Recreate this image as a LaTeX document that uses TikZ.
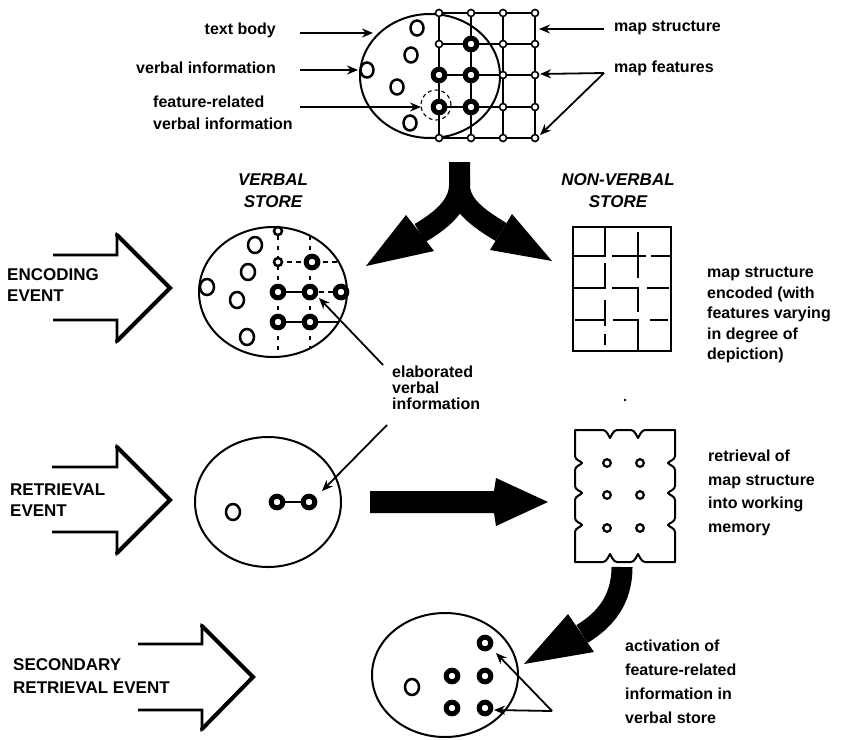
\documentclass[tikz,border=0pt]{standalone}
\usepackage{fontspec}
\setmainfont{Liberation Sans}
\usetikzlibrary{arrows.meta}
\begin{document}
\begin{tikzpicture}[x=1pt,y=-1pt,
  lbl/.style={font=\bfseries\fontsize{16}{20}\selectfont, inner sep=0pt, align=left},
  hd/.style={font=\bfseries\itshape\fontsize{17}{22}\selectfont, inner sep=0pt, align=center},
  ev/.style={font=\bfseries\fontsize{17}{21}\selectfont, inner sep=0pt, align=left},
  ring/.style={line width=5pt, draw, fill=white},
  oc/.style={line width=2.5pt, draw, fill=white},
  gn/.style={line width=1.6pt, draw, fill=white},
  ptr/.style={line width=1.8pt, -{Stealth[length=11pt,width=9pt]}},
  blk/.style={line width=2.6pt, line join=miter},
  blkh/.style={line width=4pt, line cap=round},
  band/.style={line width=21pt},
  outl/.style={line width=2pt},
]
\useasboundingbox (0,0) rectangle (850,739);

% ---------------- top figure ----------------
\draw[outl] (430,76) ellipse [x radius=70pt, y radius=62pt];
\foreach \gx in {439,471,503,535} \draw[outl] (\gx,13) -- (\gx,138);
\foreach \gy in {13,44,75,107,138} \draw[outl] (439,\gy) -- (535,\gy);
\foreach \p in {(417,28),(411,55),(397,87),(367,70),(410,123)}
  \draw[oc] \p ellipse [x radius=6.5pt, y radius=7.5pt];
\foreach \gx in {439,471,503,535}
  \foreach \gy in {13,44,75,107,138}
    \draw[gn] (\gx,\gy) circle [radius=3.5pt];
\foreach \p in {(471,44),(439,75),(471,75),(439,107),(471,107)}
  \draw[ring] \p circle [radius=5.8pt];
\draw[line width=1.1pt, dashed, dash pattern=on 4pt off 3pt] (436,105) circle [radius=15pt];

\node[lbl, anchor=east] (tb) at (276,30) {text body};
\node[lbl, anchor=east] (vi) at (276,68) {verbal information};
\node[lbl, anchor=north west, font=\bfseries\fontsize{16}{22}\selectfont] (fr) at (153,96) {feature-related\\verbal information};
\node[lbl, anchor=west] (ms) at (614,28) {map structure};
\node[lbl, anchor=west] (mf) at (614,68) {map features};

\coordinate (tbS) at (300,33);  \coordinate (tbE) at (373,33);
\coordinate (viS) at (300,70);  \coordinate (viE) at (358,70);
\coordinate (frS) at (300,107); \coordinate (frE) at (421,107);
\coordinate (msS) at (604,29);  \coordinate (msE) at (539,29);
\coordinate (mfS) at (604,73);  \coordinate (mfE1) at (540,74); \coordinate (mfE2) at (540,135);
\draw[ptr] (tbS) -- (tbE);
\draw[ptr] (viS) -- (viE);
\draw[ptr] (frS) -- (frE);
\draw[ptr] (msS) -- (msE);
\draw[ptr] (mfS) -- (mfE1);
\draw[ptr] (mfS) -- (mfE2);

% ---------------- split arrow ----------------
\draw[band] (459.5,162) -- (459.5,185) .. controls (459.5,205) and (442,220) .. (420,233);
\fill (406,215) -- (366,266) -- (434,251) -- cycle;
\draw[band] (459.5,180) -- (459.5,185) .. controls (459.5,205) and (478,218) .. (501,232);
\fill (512,214) -- (552,261) -- (490,250) -- cycle;

% ---------------- headings ----------------
\node[hd] (vs) at (273,191) {VERBAL\\STORE};
\node[hd] (nvs) at (618,191) {NON-VERBAL\\STORE};

% ---------------- encoding row ----------------
\draw[blk] (53,255) -- (117,255) -- (117,235) -- (170,288) -- (117,341) -- (117,320) -- (53,320);
\draw[blkh] (117,235) -- (170,288) -- (117,341);
\node[ev, anchor=north west] (enc) at (7,268) {ENCODING\\EVENT};

\draw[outl] (273,292) ellipse [x radius=74pt, y radius=65pt];
\begin{scope}
  \clip (273,292) ellipse [x radius=74pt, y radius=65pt];
  \draw[line width=1.6pt, dash pattern=on 4pt off 6pt] (278,226) -- (278,360);
  \draw[line width=1.6pt, dash pattern=on 4pt off 6pt] (310,226) -- (310,360);
  \draw[line width=1.6pt, dash pattern=on 5pt off 4pt] (278,262) -- (350,262);
  \draw[line width=1.6pt] (278,292) -- (310,292);
  \draw[line width=1.6pt, dash pattern=on 5pt off 4pt] (310,292) -- (350,292);
  \draw[line width=1.6pt] (278,322) -- (350,322);
\end{scope}
\foreach \p in {(255,245),(248,272),(207,287),(237,300),(247,337)}
  \draw[oc] \p ellipse [x radius=7pt, y radius=8pt];
\draw[oc] (278,231) circle [radius=4pt];
\draw[oc] (278,262) circle [radius=4pt];
\foreach \p in {(312,262),(278,292),(310,292),(278,322),(310,322),(341,292)}
  \draw[ring] \p circle [radius=5.8pt];

% non-verbal encoded grid
\draw[line width=2.2pt] (573,227) rectangle (671,351);
\begin{scope}[line width=2pt]
  \draw (573,256) -- (605,256) -- (605,227);
  \draw (612,256) -- (646,256);
  \draw (651,256) -- (671,256);
  \draw (605,263) -- (605,288) -- (573,288);
  \draw (612,288) -- (638,288) -- (638,312);
  \draw (647,288) -- (669,288);
  \draw (605,300) -- (605,326);
  \draw (575,320) -- (605,320);
  \draw (613,320) -- (638,320) -- (638,351);
  \draw (650,320) -- (668,320);
  \draw (605,334) -- (605,345);
  \draw (638,232) -- (638,278);
\end{scope}
\node[lbl, anchor=north west, font=\bfseries\fontsize{16}{20.5}\selectfont] (nvtxt) at (707,267)
  {map structure\\encoded (with\\features varying\\in degree of\\depiction)};

% elaborated verbal information
\node[lbl, anchor=north west, font=\bfseries\fontsize{16}{16}\selectfont] (elab) at (392,366)
  {elaborated\\verbal\\information};
\coordinate (elA) at (383,365); \coordinate (elAe) at (319,298);
\coordinate (elB) at (387,425); \coordinate (elBe) at (322,491);
\draw[ptr] (elA) -- (elAe);
\draw[ptr] (elB) -- (elBe);

\fill (625,400) circle [radius=1.3pt];

% ---------------- retrieval row ----------------
\draw[blk] (52,467) -- (117,467) -- (117,447) -- (170,500) -- (117,553) -- (117,532) -- (52,532);
\draw[blkh] (117,447) -- (170,500) -- (117,553);
\node[ev, anchor=north west] (ret) at (10,484) {RETRIEVAL\\EVENT};

\draw[outl] (268,502) ellipse [x radius=73pt, y radius=65pt];
\draw[oc] (233,512) ellipse [x radius=7pt, y radius=8pt];
\draw[line width=2pt] (277,502) -- (309,502);
\draw[ring] (277,502) circle [radius=5.8pt];
\draw[ring] (309,502) circle [radius=5.8pt];

\fill (370,491) -- (494,491) -- (496,478) -- (548,502) -- (496,526) -- (494,513) -- (370,513) -- cycle;

% retrieved map structure (torn rectangle)
\draw[line width=2pt, line join=round]
  (575,430) -- (603,430) .. controls (607,430) and (609,437) .. (610,438)
  .. controls (611,437) and (613,430) .. (617,430) -- (631,430)
  .. controls (635,430) and (637,437) .. (638,438)
  .. controls (639,437) and (641,430) .. (645,430) -- (675,430)
  -- (675,456) .. controls (675,460) and (669,461) .. (668,463)
  .. controls (669,465) and (675,466) .. (675,470) -- (675,486)
  .. controls (675,490) and (669,491) .. (668,493)
  .. controls (669,495) and (675,496) .. (675,500) -- (675,518)
  .. controls (675,522) and (669,523) .. (668,525)
  .. controls (669,527) and (675,528) .. (675,532) -- (675,562)
  -- (645,562) .. controls (641,562) and (639,555) .. (638,554)
  .. controls (637,555) and (635,562) .. (631,562) -- (617,562)
  .. controls (613,562) and (611,555) .. (610,554)
  .. controls (609,555) and (607,562) .. (603,562) -- (575,562)
  -- (575,532) .. controls (575,528) and (581,527) .. (582,525)
  .. controls (581,523) and (575,522) .. (575,518) -- (575,500)
  .. controls (575,496) and (581,495) .. (582,493)
  .. controls (581,491) and (575,490) .. (575,486) -- (575,470)
  .. controls (575,466) and (581,465) .. (582,463)
  .. controls (581,461) and (575,460) .. (575,456) -- cycle;
\foreach \p in {(607,463),(640,463),(607,495),(640,495),(607,528),(640,528)}
  \draw[line width=2.2pt, fill=white] \p circle [radius=3.8pt];
\node[lbl, anchor=north west, font=\bfseries\fontsize{16}{23.5}\selectfont] (rtxt) at (708,450)
  {retrieval of\\map structure\\into working\\memory};

% curved arrow to secondary store
\draw[band] (622,567) .. controls (622,600) and (605,620) .. (582,634);
\fill (568,614) -- (524,664) -- (594,652) -- cycle;

% ---------------- secondary row ----------------
\draw[blk] (138,644) -- (202,644) -- (202,626) -- (253,677) -- (202,729) -- (202,710) -- (138,710);
\draw[blkh] (202,626) -- (253,677) -- (202,729);
\node[ev, anchor=north west, font=\bfseries\fontsize{17}{23}\selectfont] (sec) at (13,658) {SECONDARY\\RETRIEVAL EVENT};

\draw[outl] (445,675) ellipse [x radius=73pt, y radius=62pt];
\draw[oc] (412,687) ellipse [x radius=7pt, y radius=8pt];
\foreach \p in {(485,643),(452,676),(485,676),(452,708),(485,708)}
  \draw[ring] \p circle [radius=5.8pt];
\coordinate (acA) at (552,711);
\coordinate (acE1) at (496,653);
\coordinate (acE2) at (494,710);
\draw[ptr] (acA) -- (acE1);
\draw[ptr] (acA) -- (acE2);
\node[lbl, anchor=north west, font=\bfseries\fontsize{16}{24}\selectfont] (atxt) at (625,640)
  {activation of\\feature-related\\information in\\verbal store};
\end{tikzpicture}
\end{document}
